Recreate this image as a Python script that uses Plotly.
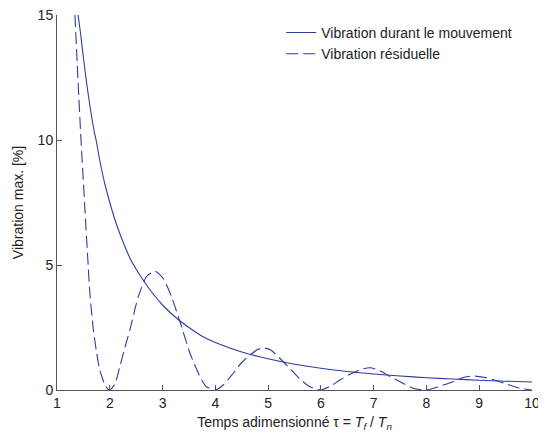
import plotly.graph_objects as go

# Solid curve: vibration during motion
tau_move = [1.40, 1.45, 1.5, 1.6, 1.7, 1.75, 1.8, 1.9, 2.0, 2.1, 2.2, 2.4, 2.6, 2.8, 3.0,
            3.25, 3.5, 3.75, 4.0, 4.5, 5.0, 5.5, 6.0, 6.5, 7.0, 7.5, 8.0, 8.5, 9.0, 9.5, 10.0]
vib_move = [15.0, 14.2, 13.3, 11.7, 10.4, 9.9, 9.3, 8.3, 7.5, 6.8, 6.2, 5.2, 4.5, 3.9, 3.4,
            2.9, 2.5, 2.15, 1.9, 1.52, 1.25, 1.03, 0.87, 0.74, 0.64, 0.56, 0.49, 0.44, 0.39, 0.35, 0.32]

# Dashed curve: residual vibration
tau_res = [1.34, 1.40, 1.455, 1.53, 1.59, 1.625, 1.69, 1.75, 1.81, 1.9, 1.97, 2.0,
           2.1, 2.19, 2.3, 2.38, 2.54, 2.7, 2.86, 3.01, 3.17, 3.36, 3.52, 3.71, 3.83, 4.0,
           4.15, 4.34, 4.5, 4.66, 4.8, 4.92, 5.05, 5.22, 5.44, 5.6, 5.79, 6.0,
           6.2, 6.36, 6.55, 6.75, 6.93, 7.12, 7.3, 7.5, 7.75, 8.0,
           8.25, 8.5, 8.7, 8.88, 9.14, 9.32, 9.52, 9.75, 10.0]
vib_res = [15.0, 12.3, 10.0, 7.2, 5.0, 3.8, 2.4, 1.5, 0.8, 0.25, 0.02, 0.0,
           0.25, 0.93, 1.8, 2.4, 3.73, 4.55, 4.75, 4.47, 3.73, 2.53, 1.47, 0.53, 0.13, 0.0,
           0.2, 0.67, 1.1, 1.4, 1.62, 1.68, 1.6, 1.27, 0.8, 0.45, 0.13, 0.0,
           0.18, 0.4, 0.63, 0.82, 0.89, 0.77, 0.55, 0.33, 0.07, 0.0,
           0.15, 0.33, 0.5, 0.56, 0.49, 0.38, 0.24, 0.08, 0.0]

x_ticks = [1, 2, 3, 4, 5, 6, 7, 8, 9, 10]
y_ticks = [0, 5, 10, 15]

COLOR = "#2f3c9e"
FONT = "Liberation Sans, Arial, sans-serif"
TXT = "#222222"
FS = 14

fig = go.Figure()
fig.add_trace(go.Scatter(x=tau_move, y=vib_move, mode="lines",
                         name="Vibration durant le mouvement",
                         line=dict(color=COLOR, width=1.1, shape="spline", smoothing=0.8)))
fig.add_trace(go.Scatter(x=tau_res, y=vib_res, mode="lines",
                         name="Vibration résiduelle",
                         line=dict(color=COLOR, width=1.1, dash="12px,5px",
                                   shape="spline", smoothing=0.6)))

# page body has an 8px default margin, so the figure is sized to compensate
fig.update_layout(
    width=538, height=427,
    margin=dict(l=49, r=14, t=7, b=45, autoexpand=False),
    paper_bgcolor="white", plot_bgcolor="white",
    font=dict(family=FONT, size=FS, color=TXT),
    showlegend=True,
    legend=dict(x=0.472, y=0.995, xanchor="left", yanchor="top",
                bgcolor="rgba(0,0,0,0)", borderwidth=0,
                font=dict(size=FS, color=TXT), tracegroupgap=0),
    xaxis=dict(range=[1, 10], tickvals=x_ticks, ticktext=[str(v) for v in x_ticks],
               showgrid=False, zeroline=False, showline=True, linecolor="#555555",
               linewidth=1, ticks="inside", ticklen=5, tickcolor="#555555",
               tickfont=dict(size=FS, color=TXT), automargin=False,
               ticklabeloverflow="allow",
               title=dict(text="Temps adimensionné τ = <i>T</i><sub><i>f</i></sub> / <i>T</i><sub><i>n</i></sub>",
                          font=dict(size=FS, color=TXT), standoff=7)),
    yaxis=dict(range=[0, 15], tickvals=y_ticks, ticktext=[str(v) for v in y_ticks],
               showgrid=False, zeroline=False, showline=True, linecolor="#555555",
               linewidth=1, ticks="inside", ticklen=5, tickcolor="#555555",
               tickfont=dict(size=FS, color=TXT), automargin=False,
               ticklabeloverflow="allow",
               title=dict(text="Vibration max. [%]", font=dict(size=FS, color=TXT),
                          standoff=10)),
)

fig.write_html("out.html")
